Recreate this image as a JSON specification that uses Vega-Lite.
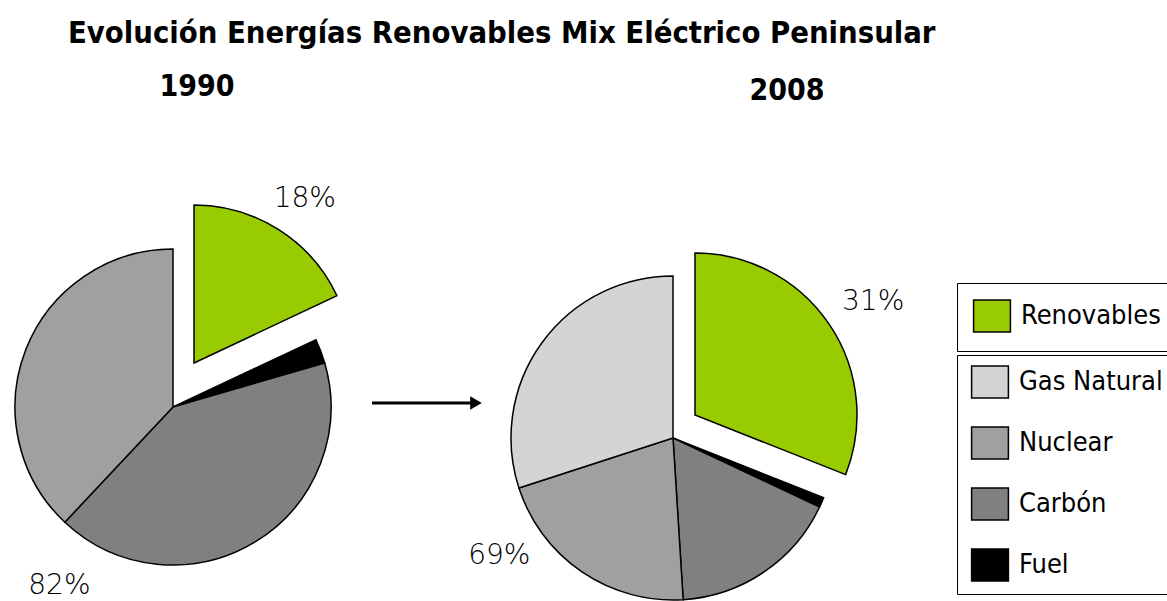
{
  "$schema": "https://vega.github.io/schema/vega-lite/v6.json",
  "width": 1167,
  "height": 601,
  "autosize": {"type": "none"},
  "padding": 0,
  "background": "white",
  "title": {
    "text": "Evolución Energías Renovables Mix Eléctrico Peninsular",
    "anchor": "start",
    "frame": "group",
    "font": "DejaVu Sans Condensed",
    "fontSize": 30.7,
    "fontWeight": "bold",
    "color": "black",
    "baseline": "alphabetic",
    "offset": 0,
    "dx": 68,
    "dy": 74
  },
  "datasets": {
    "mix": [
      {"year": "1990", "fuente": "Renovables", "grupo": "Renovables", "orden": 1, "pct": 0.18},
      {"year": "1990", "fuente": "Fuel", "grupo": "Resto", "orden": 2, "pct": 0.025},
      {"year": "1990", "fuente": "Carbón", "grupo": "Resto", "orden": 3, "pct": 0.415},
      {"year": "1990", "fuente": "Nuclear", "grupo": "Resto", "orden": 4, "pct": 0.38},
      {"year": "2008", "fuente": "Renovables", "grupo": "Renovables", "orden": 1, "pct": 0.31},
      {"year": "2008", "fuente": "Fuel", "grupo": "Resto", "orden": 2, "pct": 0.01},
      {"year": "2008", "fuente": "Carbón", "grupo": "Resto", "orden": 3, "pct": 0.17},
      {"year": "2008", "fuente": "Nuclear", "grupo": "Resto", "orden": 4, "pct": 0.21},
      {"year": "2008", "fuente": "Gas Natural", "grupo": "Resto", "orden": 5, "pct": 0.30}
    ],
    "flecha": [{"desde": "1990", "hasta": "2008"}]
  },
  "data": {"name": "mix"},
  "encoding": {
    "x": {"field": "year", "type": "nominal", "scale": {"type": "point", "domain": ["1990", "2008"], "range": [173, 673], "padding": 0}, "axis": null},
    "y": {"field": "year", "type": "nominal", "scale": {"type": "point", "domain": ["1990", "2008"], "range": [407, 438], "padding": 0}, "axis": null}
  },
  "layer": [
    {
      "transform": [
        {"stack": "pct", "groupby": ["year"], "sort": [{"field": "orden", "order": "ascending"}], "as": ["start", "end"]},
        {"filter": "datum.year === '1990' && datum.fuente !== 'Renovables'"}
      ],
      "mark": {"type": "arc", "outerRadius": 158, "stroke": "black", "strokeWidth": 1.5},
      "encoding": {
        "theta": {"field": "start", "type": "quantitative", "stack": null, "scale": {"domain": [0, 1]}},
        "theta2": {"field": "end"},
        "color": {
          "field": "fuente", "type": "nominal",
          "scale": {"domain": ["Gas Natural", "Nuclear", "Carbón", "Fuel"], "range": ["#d4d4d4", "#a0a0a0", "#808080", "#000000"]},
          "legend": {"orient": "none", "legendX": 957, "legendY": 355, "title": null, "padding": 10, "rowPadding": 23, "symbolOffset": 6}
        }
      }
    },
    {
      "transform": [
        {"stack": "pct", "groupby": ["year"], "sort": [{"field": "orden", "order": "ascending"}], "as": ["start", "end"]},
        {"filter": "datum.year === '2008' && datum.fuente !== 'Renovables'"}
      ],
      "mark": {"type": "arc", "outerRadius": 162, "stroke": "black", "strokeWidth": 1.5},
      "encoding": {
        "theta": {"field": "start", "type": "quantitative", "stack": null, "scale": {"domain": [0, 1]}},
        "theta2": {"field": "end"},
        "color": {
          "field": "fuente", "type": "nominal",
          "scale": {"domain": ["Gas Natural", "Nuclear", "Carbón", "Fuel"], "range": ["#d4d4d4", "#a0a0a0", "#808080", "#000000"]},
          "legend": {"orient": "none", "legendX": 957, "legendY": 355, "title": null, "padding": 10, "rowPadding": 23, "symbolOffset": 6}
        }
      }
    },
    {
      "transform": [
        {"stack": "pct", "groupby": ["year"], "sort": [{"field": "orden", "order": "ascending"}], "as": ["start", "end"]},
        {"filter": "datum.year === '1990' && datum.fuente === 'Renovables'"}
      ],
      "mark": {"type": "arc", "outerRadius": 158, "stroke": "black", "strokeWidth": 1.5, "xOffset": 21, "yOffset": -44},
      "encoding": {
        "theta": {"field": "start", "type": "quantitative", "stack": null, "scale": {"domain": [0, 1]}},
        "theta2": {"field": "end"},
        "fill": {
          "field": "fuente", "type": "nominal",
          "scale": {"domain": ["Renovables"], "range": ["#99cc00"]},
          "legend": {"orient": "none", "legendX": 957, "legendY": 283, "title": null, "padding": 16, "symbolOffset": 2}
        }
      }
    },
    {
      "transform": [
        {"stack": "pct", "groupby": ["year"], "sort": [{"field": "orden", "order": "ascending"}], "as": ["start", "end"]},
        {"filter": "datum.year === '2008' && datum.fuente === 'Renovables'"}
      ],
      "mark": {"type": "arc", "outerRadius": 162, "stroke": "black", "strokeWidth": 1.5, "xOffset": 22, "yOffset": -23},
      "encoding": {
        "theta": {"field": "start", "type": "quantitative", "stack": null, "scale": {"domain": [0, 1]}},
        "theta2": {"field": "end"},
        "fill": {
          "field": "fuente", "type": "nominal",
          "scale": {"domain": ["Renovables"], "range": ["#99cc00"]},
          "legend": {"orient": "none", "legendX": 957, "legendY": 283, "title": null, "padding": 16, "symbolOffset": 2}
        }
      }
    },
    {
      "transform": [
        {"filter": "datum.year === '1990'"},
        {"aggregate": [{"op": "sum", "field": "pct", "as": "total"}], "groupby": ["year", "grupo"]}
      ],
      "mark": {"type": "text", "radius": 246, "font": "DejaVu Sans", "fontSize": 28, "fontWeight": 200, "color": "black", "align": "center", "baseline": "middle"},
      "encoding": {
        "theta": {"field": "total", "type": "quantitative", "stack": true, "scale": {"domain": [0, 1]}},
        "order": {"field": "grupo", "type": "ordinal", "sort": "ascending"},
        "detail": {"field": "grupo", "type": "nominal"},
        "text": {"field": "total", "type": "quantitative", "format": ".0%", "condition": {"test": "datum.grupo !== 'Renovables'", "value": ""}}
      }
    },
    {
      "transform": [
        {"filter": "datum.year === '1990'"},
        {"aggregate": [{"op": "sum", "field": "pct", "as": "total"}], "groupby": ["year", "grupo"]}
      ],
      "mark": {"type": "text", "radius": 212, "font": "DejaVu Sans", "fontSize": 28, "fontWeight": 200, "color": "black", "align": "center", "baseline": "middle"},
      "encoding": {
        "theta": {"field": "total", "type": "quantitative", "stack": true, "scale": {"domain": [0, 1]}},
        "order": {"field": "grupo", "type": "ordinal", "sort": "ascending"},
        "detail": {"field": "grupo", "type": "nominal"},
        "text": {"field": "total", "type": "quantitative", "format": ".0%", "condition": {"test": "datum.grupo !== 'Resto'", "value": ""}}
      }
    },
    {
      "transform": [
        {"filter": "datum.year === '2008'"},
        {"aggregate": [{"op": "sum", "field": "pct", "as": "total"}], "groupby": ["year", "grupo"]}
      ],
      "mark": {"type": "text", "radius": 242, "font": "DejaVu Sans", "fontSize": 28, "fontWeight": 200, "color": "black", "align": "center", "baseline": "middle"},
      "encoding": {
        "theta": {"field": "total", "type": "quantitative", "stack": true, "scale": {"domain": [0, 1]}},
        "order": {"field": "grupo", "type": "ordinal", "sort": "ascending"},
        "detail": {"field": "grupo", "type": "nominal"},
        "text": {"field": "total", "type": "quantitative", "format": ".0%", "condition": {"test": "datum.grupo !== 'Renovables'", "value": ""}}
      }
    },
    {
      "transform": [
        {"filter": "datum.year === '2008'"},
        {"aggregate": [{"op": "sum", "field": "pct", "as": "total"}], "groupby": ["year", "grupo"]}
      ],
      "mark": {"type": "text", "radius": 210, "font": "DejaVu Sans", "fontSize": 28, "fontWeight": 200, "color": "black", "align": "center", "baseline": "middle"},
      "encoding": {
        "theta": {"field": "total", "type": "quantitative", "stack": true, "scale": {"domain": [0, 1]}},
        "order": {"field": "grupo", "type": "ordinal", "sort": "ascending"},
        "detail": {"field": "grupo", "type": "nominal"},
        "text": {"field": "total", "type": "quantitative", "format": ".0%", "condition": {"test": "datum.grupo !== 'Resto'", "value": ""}}
      }
    },
    {
      "transform": [{"filter": "datum.year === '1990' && datum.orden === 1"}],
      "mark": {"type": "text", "dx": 24, "dy": -311, "font": "DejaVu Sans Condensed", "fontSize": 30, "fontWeight": "bold", "align": "center", "baseline": "alphabetic", "color": "black"},
      "encoding": {"text": {"field": "year", "type": "nominal"}}
    },
    {
      "transform": [{"filter": "datum.year === '2008' && datum.orden === 1"}],
      "mark": {"type": "text", "dx": 114, "dy": -338, "font": "DejaVu Sans Condensed", "fontSize": 30, "fontWeight": "bold", "align": "center", "baseline": "alphabetic", "color": "black"},
      "encoding": {"text": {"field": "year", "type": "nominal"}}
    },
    {
      "data": {"name": "flecha"},
      "mark": {"type": "rule", "xOffset": 199, "x2Offset": -196, "yOffset": -4, "strokeWidth": 3, "color": "black"},
      "encoding": {
        "x": {"field": "desde", "type": "nominal", "scale": {"type": "point", "domain": ["1990", "2008"], "range": [173, 673], "padding": 0}, "axis": null},
        "x2": {"field": "hasta"},
        "y": {"field": "desde", "type": "nominal", "scale": {"type": "point", "domain": ["1990", "2008"], "range": [407, 438], "padding": 0}, "axis": null}
      }
    },
    {
      "data": {"name": "flecha"},
      "mark": {"type": "point", "shape": "triangle-right", "size": 180, "filled": true, "opacity": 1, "color": "black", "xOffset": -197, "yOffset": -4},
      "encoding": {
        "x": {"field": "hasta", "type": "nominal", "scale": {"type": "point", "domain": ["1990", "2008"], "range": [173, 673], "padding": 0}, "axis": null},
        "y": {"field": "desde", "type": "nominal", "scale": {"type": "point", "domain": ["1990", "2008"], "range": [407, 438], "padding": 0}, "axis": null}
      }
    }
  ],
  "config": {
    "view": {"stroke": null},
    "legend": {
      "labelFont": "DejaVu Sans Condensed",
      "labelFontSize": 27,
      "labelColor": "black",
      "labelLimit": 400,
      "labelOffset": 12,
      "symbolType": "M-1.15,-1H1.15V1H-1.15Z",
      "symbolSize": 1024,
      "symbolStrokeColor": "black",
      "symbolStrokeWidth": 1.5,
      "symbolOpacity": 1,
      "strokeColor": "black"
    }
  }
}
